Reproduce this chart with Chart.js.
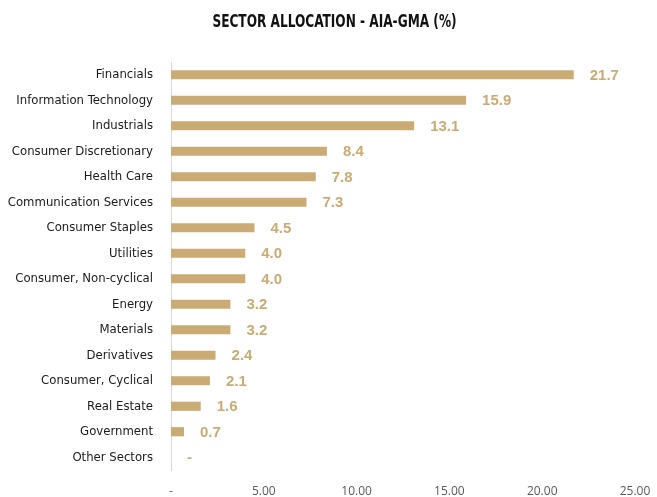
<!DOCTYPE html>
<html>
<head>
<meta charset="utf-8">
<script src="https://cdn.jsdelivr.net/npm/chart.js@4"></script>
<style>
  html, body { margin: 0; padding: 0; background: #fff; }
  #wrap { width: 657px; height: 497px; }
</style>
</head>
<body>
<div id="wrap"><canvas id="sector__chart"></canvas></div>
<script>
var chartTitle = 'SECTOR ALLOCATION - AIA-GMA (%)';
var sectors = ['Financials', 'Information Technology', 'Industrials', 'Consumer Discretionary',
    'Health Care', 'Communication Services', 'Consumer Staples', 'Utilities',
    'Consumer, Non-cyclical', 'Energy', 'Materials', 'Derivatives', 'Consumer, Cyclical',
    'Real Estate', 'Government', 'Other Sectors'];
var weights = [21.7, 15.9, 13.1, 8.4, 7.8, 7.3, 4.5, 4.0, 4.0, 3.2, 3.2, 2.4, 2.1, 1.6, 0.7, 0];
var xTicks = [0, 5, 10, 15, 20, 25];

var gold = '#C9AB73';
var narrow = '"DejaVu Sans Condensed", sans-serif';

// value labels at the end of each bar
var barLabels = {
    id: 'barLabels',
    afterDatasetsDraw: function (chart) {
        var ctx = chart.ctx;
        var meta = chart.getDatasetMeta(0);
        ctx.save();
        ctx.font = 'bold 15px "Liberation Sans", sans-serif';
        ctx.fillStyle = gold;
        ctx.textBaseline = 'middle';
        ctx.textAlign = 'left';
        meta.data.forEach(function (bar, i) {
            var v = weights[i];
            ctx.fillText(v === 0 ? '-' : v.toFixed(1), bar.x + 16, bar.y + 1);
        });
        ctx.restore();
    }
};

// squeezed title, the original uses a narrow face
var narrowTitle = {
    id: 'narrowTitle',
    afterDraw: function (chart) {
        var ctx = chart.ctx;
        ctx.save();
        ctx.font = 'bold 18px "DejaVu Sans Condensed", sans-serif';
        ctx.fillStyle = '#111111';
        ctx.textAlign = 'center';
        ctx.textBaseline = 'middle';
        ctx.translate(chart.width / 2 + 6, 22);
        ctx.scale(0.75, 1);
        ctx.fillText(chartTitle, 0, 0);
        ctx.restore();
    }
};

var ctx = document.getElementById('sector__chart');
var sector__chart = new Chart(ctx, {
    type: 'bar',
    data: {
        labels: sectors,
        datasets: [{
            data: weights,
            backgroundColor: gold,
            borderWidth: 0,
            barPercentage: 0.72,
            categoryPercentage: 0.5
        }]
    },
    options: {
        indexAxis: 'y',
        responsive: true,
        maintainAspectRatio: false,
        animation: false,
        layout: { padding: { left: 0, right: 22, bottom: 0, top: 62 } },
        plugins: {
            legend: { display: false },
            tooltip: { enabled: false },
            title: { display: false }
        },
        scales: {
            x: {
                min: 0,
                max: 25,
                afterBuildTicks: function (scale) {
                    scale.ticks = xTicks.map(function (v) { return { value: v }; });
                },
                afterFit: function (scale) { scale.height = 27; },
                grid: { display: false },
                border: { display: false },
                ticks: {
                    padding: 6,
                    color: '#595959',
                    font: { family: '"Open Sans", sans-serif', size: 12 },
                    callback: function (v) { return v === 0 ? '-' : v.toFixed(2); }
                }
            },
            y: {
                afterFit: function (scale) { scale.width = 171; },
                grid: { display: false },
                border: { display: true, color: '#D9D9D9', width: 1 },
                ticks: {
                    padding: 10,
                    color: '#1a1a1a',
                    font: { family: narrow, size: 13 }
                }
            }
        }
    },
    plugins: [barLabels, narrowTitle]
});
</script>
</body>
</html>
